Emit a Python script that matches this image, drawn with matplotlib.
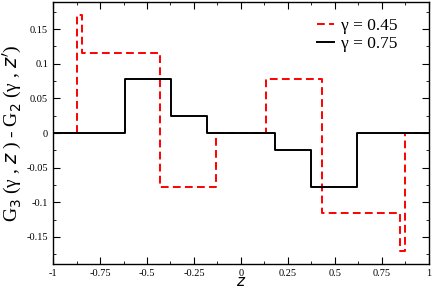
import matplotlib
matplotlib.use('Agg')
import matplotlib.pyplot as plt
from matplotlib.ticker import MultipleLocator, FormatStrFormatter

plt.rcParams['font.family'] = ['Liberation Serif', 'DejaVu Serif']
plt.rcParams['axes.unicode_minus'] = False

# step edges and values (post-step)
z_045 = [-1, -0.87, -0.845, -0.43, -0.135, 0.135, 0.43, 0.845, 0.87, 1]
g_045 = [0, 0.17, 0.115, -0.078, 0, 0.078, -0.115, -0.17, 0, 0]

z_075 = [-1, -0.615, -0.372, -0.181, 0.181, 0.372, 0.615, 1]
g_075 = [0, 0.078, 0.025, 0, -0.025, -0.078, 0, 0]

fig = plt.figure(figsize=(4.32, 2.91), dpi=100)
ax = fig.add_axes([0.1227, 0.0928, 0.8703, 0.9002])

ax.step(z_045, g_045, where='post', color='#ff0000', ls=(0, (4, 2.2)), lw=1.4, label='γ = 0.45')
ax.step(z_075, g_075, where='post', color='black', lw=1.4, label='γ = 0.75')

ax.set_xlim(-1, 1)
ax.set_ylim(-0.189, 0.189)
ax.xaxis.set_major_locator(MultipleLocator(0.25))
ax.xaxis.set_minor_locator(MultipleLocator(0.125))
ax.yaxis.set_major_locator(MultipleLocator(0.05))
ax.yaxis.set_minor_locator(MultipleLocator(0.025))
ax.xaxis.set_major_formatter(FormatStrFormatter('%g'))
ax.yaxis.set_major_formatter(FormatStrFormatter('%g'))
ax.tick_params(which='both', direction='in', top=True, right=True, labelsize=7.5)
ax.tick_params(which='major', length=5)
ax.tick_params(which='minor', length=2.5)
for s in ax.spines.values():
    s.set_linewidth(1.0)

ax.set_xlabel('$z$', fontsize=11, labelpad=-1)
ax.set_ylabel("G$_3$ (γ , $z$ ) - G$_2$ (γ , $z'$)", fontsize=14, labelpad=2)

ax.legend(loc='upper right', frameon=False, fontsize=12.5, handlelength=1.0,
          handletextpad=0.4, labelspacing=0.1, borderaxespad=0.2,
          bbox_to_anchor=(0.945, 0.98))

fig.savefig('out.png', dpi=100)
